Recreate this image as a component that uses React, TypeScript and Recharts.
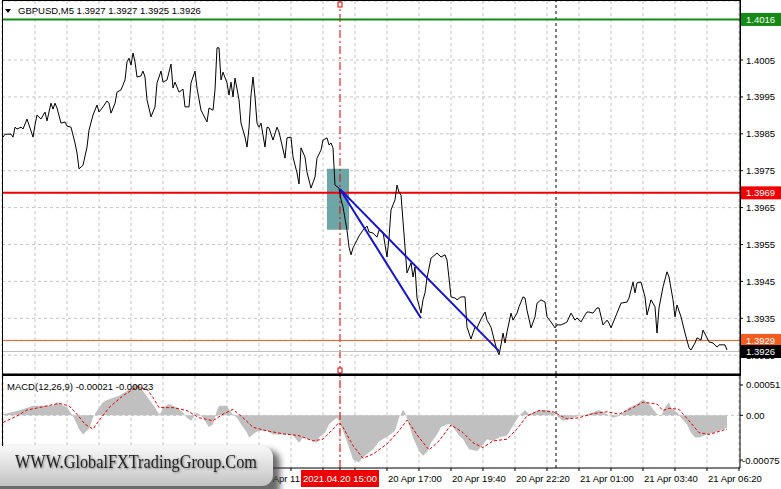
import React from 'react';
import {
  ComposedChart,
  Line,
  Area,
  XAxis,
  YAxis,
  CartesianGrid,
  ReferenceLine,
  ReferenceArea,
  ReferenceDot,
} from 'recharts';

const FONT = '"Liberation Sans", Arial, sans-serif';

// 5 minute bars, bar 0 = 20 Apr 01:00
const priceBars = [
  0, 1, 4, 5, 6, 7, 9, 10, 12, 13,
  15, 16, 17, 19, 21, 22, 24, 25, 26, 27,
  29, 31, 32, 34, 36, 37, 38, 40, 42, 43,
  45, 47, 48, 50, 52, 53, 54, 56, 57, 59,
  61, 62, 63, 64, 65, 66, 67, 69, 70, 71,
  72, 74, 76, 77, 79, 80, 82, 84, 85, 86,
  87, 88, 90, 91, 93, 94, 96, 97, 99, 102,
  103, 105, 106, 107, 108, 109, 110, 112, 113, 114,
  115, 116, 118, 119, 121, 122, 123, 124, 125, 126,
  127, 128, 129, 131, 132, 133, 135, 137, 138, 141,
  142, 144, 145, 147, 148, 149, 151, 152, 154, 156,
  157, 159, 160, 162, 163, 164, 165, 166, 168, 169,
  170, 172, 173, 174, 175, 177, 178, 180, 182, 183,
  185, 187, 188, 190, 192, 193, 194, 196, 197, 198,
  199, 201, 202, 204, 205, 206, 207, 209, 210, 211,
  212, 214, 216, 217, 219, 221, 222, 223, 224, 226,
  227, 229, 231, 232, 234, 236, 237, 239, 241, 242,
  244, 246, 247, 248, 249, 250, 251, 252, 254, 255,
  257, 258, 260, 261, 262, 264, 266, 267, 269, 271,
  272, 274, 276, 277, 279, 281, 282, 284, 286, 287,
  289, 291, 292, 293, 295, 297, 298, 300, 302, 303,
  304, 306, 307, 309, 312, 313, 315, 316, 317, 319,
  321, 322, 324, 326, 327, 328, 330, 332, 333, 335,
  336, 337, 339, 341, 343, 344, 346, 347, 349, 350,
  352, 353, 355, 357, 358, 361, 362,
];
const priceValues = [
  1.39841, 1.39849, 1.39849, 1.39841, 1.39868, 1.39863, 1.39868, 1.39863, 1.3989, 1.39874,
  1.39841, 1.39874, 1.39901, 1.3989, 1.39909, 1.39885, 1.39933, 1.39917, 1.39933, 1.3992,
  1.39879, 1.39882, 1.39871, 1.39868, 1.39825, 1.39798, 1.39755, 1.39765, 1.39814, 1.3986,
  1.39901, 1.39928, 1.39909, 1.39923, 1.39939, 1.39933, 1.39906, 1.39933, 1.39963, 1.39969,
  1.39996, 1.40045, 1.40055, 1.40036, 1.40069, 1.40045, 1.40004, 1.40007, 1.4002, 1.40004,
  1.39942, 1.39896, 1.39923, 1.39988, 1.4002, 1.3999, 1.39996, 1.40039, 1.39974, 1.3999,
  1.39977, 1.39963, 1.39971, 1.39923, 1.39923, 1.39988, 1.4002, 1.39974, 1.39914, 1.39882,
  1.3992, 1.39914, 1.39969, 1.40083, 1.40083, 1.39996, 1.40017, 1.39988, 1.39955, 1.3999,
  1.3995, 1.40001, 1.39942, 1.39879, 1.39841, 1.39814, 1.39866, 1.39955, 1.40004, 1.3995,
  1.39879, 1.39868, 1.39879, 1.39814, 1.39868, 1.39866, 1.39833, 1.39868, 1.39855, 1.39784,
  1.39839, 1.39841, 1.39787, 1.39744, 1.39714, 1.39812, 1.39787, 1.39746, 1.39703, 1.39733,
  1.39784, 1.39806, 1.39833, 1.39839, 1.3982, 1.39825, 1.39812, 1.39711, 1.39703, 1.39671,
  1.39652, 1.39589, 1.39543, 1.39522, 1.39541, 1.39562, 1.39573, 1.39589, 1.396, 1.39584,
  1.39581, 1.3957, 1.39589, 1.39584, 1.39516, 1.39568, 1.39644, 1.39671, 1.39711, 1.39692,
  1.39684, 1.39543, 1.39473, 1.395, 1.39462, 1.39489, 1.39405, 1.39364, 1.394, 1.39419,
  1.39459, 1.39513, 1.39522, 1.39527, 1.39516, 1.39522, 1.39508, 1.39459, 1.39408, 1.39405,
  1.394, 1.39408, 1.39408, 1.39326, 1.39294, 1.39326, 1.39324, 1.39348, 1.39367, 1.39345,
  1.39326, 1.39283, 1.39264, 1.39251, 1.39278, 1.3931, 1.39283, 1.39313, 1.39364, 1.39345,
  1.39364, 1.39381, 1.39408, 1.39405, 1.39372, 1.39324, 1.39354, 1.39391, 1.394, 1.39394,
  1.39354, 1.3934, 1.39324, 1.39332, 1.39332, 1.39337, 1.3934, 1.39364, 1.39345, 1.39351,
  1.3934, 1.39359, 1.39367, 1.39367, 1.39364, 1.39378, 1.39378, 1.39332, 1.39345, 1.39337,
  1.39324, 1.39351, 1.39364, 1.39391, 1.39394, 1.39405, 1.39448, 1.39419, 1.39446, 1.39448,
  1.39408, 1.39359, 1.394, 1.39381, 1.3931, 1.39378, 1.39435, 1.39476, 1.39462, 1.394,
  1.39354, 1.39386, 1.39354, 1.3931, 1.3927, 1.39264, 1.39283, 1.39297, 1.39291, 1.39318,
  1.39297, 1.39286, 1.39283, 1.39272, 1.39278, 1.39278, 1.39264,
];

// MACD main (histogram) and signal
const macdBars = [
  0, 8, 15, 25, 27, 32, 35, 38, 40, 43,
  45, 47, 50, 53, 58, 62, 65, 68, 70, 73,
  76, 78, 79, 80, 83, 87, 90, 92, 94, 97,
  100, 103, 105, 107, 108, 112, 114, 117, 119, 122,
  123, 126, 128, 132, 135, 138, 142, 145, 148, 150,
  153, 157, 158, 161, 163, 165, 167, 168, 170, 173,
  175, 178, 179, 182, 185, 188, 193, 196, 198, 200,
  201, 203, 205, 208, 210, 212, 214, 217, 219, 222,
  224, 228, 230, 233, 237, 238, 242, 245, 248, 252,
  254, 256, 258, 261, 263, 265, 268, 272, 275, 278,
  280, 283, 285, 288, 292, 295, 298, 302, 305, 308,
  310, 313, 317, 320, 323, 327, 329, 331, 333, 334,
  337, 339, 342, 344, 346, 348, 352, 355, 358, 362,
];
const macdValues = [
  0.00002, 0.00008, 0.00016, 0.00016, 0.00022, 0.00013, -0.00001, -0.00023, -0.00032, -0.00023,
  -0.00004, 0.00008, 0.00022, 0.00027, 0.00033, 0.00041, 0.0005, 0.00052, 0.00041, 0.00027,
  0.00013, 0.00002, 0.00005, 0.00013, 0.00019, 0.00013, 0.00005, -0.00004, -0.00009, 0.00005,
  -0.00004, -0.0002, -0.00015, 0.00008, 0.00016, 0.00016, 0.00005, -0.00004, -0.00015, -0.00029,
  -0.00037, -0.00029, -0.00026, -0.00026, -0.00032, -0.00032, -0.00032, -0.00034, -0.00046, -0.00037,
  -0.0004, -0.00046, -0.00037, -0.00029, -0.00015, -0.00009, -0.00004, -0.00009, -0.00026, -0.00054,
  -0.00074, -0.00079, -0.00074, -0.00065, -0.00057, -0.00044, -0.00034, -0.00026, -0.00004, 0.00009,
  0.00005, -0.00015, -0.00037, -0.0006, -0.00068, -0.00062, -0.00046, -0.00032, -0.0002, -0.00015,
  -0.00015, -0.00034, -0.0004, -0.00057, -0.0006, -0.00057, -0.0004, -0.00043, -0.00037, -0.00034,
  -0.00023, -0.00012, -0.00001, 0.00009, 0.00002, 0.00005, 0.00009, 0.00009, 0.00005, -0.00004,
  -0.00009, -0.00006, -0.00004, -0.00001, 0.00002, 0.00005, 0.00009, 0.00002, -0.00004, -0.00001,
  0.00005, 0.00013, 0.00019, 0.00027, 0.00019, 0.00002, -0.00001, 0.00013, 0.00022, 0.00013,
  0.00005, -0.00004, -0.00015, -0.00029, -0.00037, -0.00037, -0.00032, -0.00029, -0.00026, -0.00021,
];
const signalBars = [
  0, 7, 12, 18, 28, 33, 37, 41, 45, 48,
  53, 60, 67, 72, 75, 78, 85, 92, 98, 105,
  110, 115, 120, 125, 132, 140, 148, 155, 160, 165,
  168, 170, 175, 180, 185, 192, 198, 202, 208, 213,
  218, 224, 230, 235, 240, 245, 252, 257, 262, 268,
  275, 282, 288, 295, 302, 308, 315, 320, 327, 330,
  333, 338, 343, 348, 353, 362,
];
const signalValues = [
  -0.00012, -0.00001, 0.00009, 0.00013, 0.0002, 0.00016, 0.00002, -0.00015, -0.00023, -0.00009,
  0.00013, 0.00033, 0.00048, 0.00044, 0.0003, 0.00013, 0.00013, 0.00008, -0.00004, -0.00009,
  0.00002, 0.0001, -0.00004, -0.0002, -0.00026, -0.00031, -0.00034, -0.00043, -0.0004, -0.00023,
  -0.00012, -0.0002, -0.00051, -0.00072, -0.00065, -0.00048, -0.00026, -0.00008, -0.00037, -0.00058,
  -0.00043, -0.00016, -0.00029, -0.00046, -0.00054, -0.00043, -0.0004, -0.00023, -0.00001, 0.00008,
  0.00006, -0.00006, -0.00004, 0.00003, 0.00006, 0.00002, 0.00013, 0.00022, 0.00019, 0.00008,
  0.00012, 0.0001, -0.00009, -0.00029, -0.00032, -0.00023,
];

const gridBars = [
  0, 16, 32, 48, 64, 80, 96, 112, 128, 144, 160, 176,
  192, 208, 224, 240, 256, 272, 288, 304, 320, 336, 352, 368,
];
const timeLabels = [
  '20 Apr 2021', '20 Apr 03:40', '20 Apr 06:20', '20 Apr 09:00', '20 Apr 11:40', '20 Apr 14:20',
  '20 Apr 17:00', '20 Apr 19:40', '20 Apr 22:20', '21 Apr 01:00', '21 Apr 03:40', '21 Apr 06:20',
];
const priceTicks = [1.3925, 1.3935, 1.3945, 1.3955, 1.3965, 1.3975, 1.3985, 1.3995, 1.4005];
const macdTicks = [-0.00075, 0, 0.00051];

// objects on the chart
const levelPrices = [1.4016, 1.3969, 1.3929, 1.3926];
const levelLabels = ['1.4016', '1.3969', '1.3929', '1.3926'];
const crossBar = 168.5; // 2021.04.20 15:00
const crossLabel = '2021.04.20 15:00';
const daySeparatorBar = 276.5;
const boxBars = [162, 173];
const boxPrices = [1.3959, 1.39755];
const trendFrom = { bar: 168.5, price: 1.397 };
const trendTo = [
  { bar: 209, price: 1.3935 },
  { bar: 248, price: 1.39261 },
];

const xDomain = [-0.5, 368.5];
const priceDomain = [1.39199, 1.4021];
const macdDomain = [-0.000884, 0.000661];

const levelColors = ['#138a13', '#f00000', '#f25c1f', '#000'];
const levelStrokes = ['#138a13', '#f00000', '#f25c1f', '#c0c0c0'];

const priceData = priceBars.map((i, k) => ({ i, p: priceValues[k] }));
const macdData = macdBars.map((i, k) => ({ i, v: macdValues[k] }));
const signalData = signalBars.map((i, k) => ({ i, v: signalValues[k] }));

const PriceTick = (props: any) => {
  const { x, y, payload } = props;
  const v = payload.value;
  const k = levelPrices.indexOf(v);
  if (k >= 0) {
    return (
      <g>
        <rect x={x - 5} y={y - 6.5} width={40} height={13} fill={levelColors[k]} />
        <text x={x} y={y + 3.5} fill="#fff" fontSize={9.5} fontFamily={FONT}>
          {levelLabels[k]}
        </text>
      </g>
    );
  }
  return (
    <text x={x} y={y + 3.5} fill="#000" fontSize={9.5} fontFamily={FONT}>
      {v.toFixed(4)}
    </text>
  );
};

const MacdTick = (props: any) => {
  const { x, y, payload } = props;
  const v = payload.value;
  const text = v === 0 ? '0.00' : v.toFixed(5);
  return (
    <text x={v < 0 ? x - 4 : x} y={y + 3.5} fill="#000" fontSize={9.5} fontFamily={FONT}>
      {text}
    </text>
  );
};

const TimeTick = (props: any) => {
  const { x, y, payload } = props;
  const bar = payload.value;
  if (bar === crossBar) {
    return (
      <g>
        <rect x={x - 39} y={y - 3} width={78} height={17} fill="#ee0000" />
        <text x={x} y={y + 9} textAnchor="middle" fill="#fff" fontSize={9.5} fontFamily={FONT}>
          {crossLabel}
        </text>
      </g>
    );
  }
  if (bar % 32 !== 0) return <g />;
  return (
    <text x={x + 1} y={y + 8.5} fill="#000" fontSize={9.5} fontFamily={FONT}>
      {timeLabels[bar / 32]}
    </text>
  );
};

const AnchorMark = (props: any) => {
  const { cx, cy, up } = props;
  if (cx == null || cy == null) return <g />;
  return (
    <rect
      x={cx - 2}
      y={up ? cy - 6 : cy + 1}
      width={4}
      height={5}
      fill="#fff"
      stroke="#e00000"
    />
  );
};

export default function App() {
  return (
    <div
      style={{
        position: 'absolute',
        left: 0,
        top: 0,
        width: 781,
        height: 489,
        background: '#fff',
        overflow: 'hidden',
        fontFamily: FONT,
      }}
    >
      <div style={{ position: 'absolute', left: 0, top: 0 }}>
        <ComposedChart width={781} height={375} margin={{ top: 1, right: 0, bottom: 1, left: 2 }}>
          <CartesianGrid stroke="#c4c4c4" strokeDasharray="3 3" />
          <XAxis type="number" dataKey="i" domain={xDomain} ticks={gridBars} hide allowDataOverflow />
          <YAxis
            orientation="right"
            type="number"
            domain={priceDomain}
            ticks={[...priceTicks, ...levelPrices]}
            width={41}
            tickSize={3}
            tickMargin={3}
            interval={0}
            allowDataOverflow
            tick={<PriceTick />}
            axisLine={{ stroke: '#000' }}
            tickLine={{ stroke: '#000' }}
          />
          <ReferenceArea
            x1={boxBars[0]}
            x2={boxBars[1]}
            y1={boxPrices[0]}
            y2={boxPrices[1]}
            fill="#5f9ea0"
            fillOpacity={0.92}
            stroke="none"
          />
          <ReferenceLine x={daySeparatorBar} stroke="#000" strokeDasharray="3 3" />
          <ReferenceLine x={crossBar} stroke="#e00000" strokeDasharray="8 3 2 3" />
          {[3, 2, 1, 0].map((k) => (
            <ReferenceLine
              key={k}
              y={levelPrices[k]}
              stroke={levelStrokes[k]}
              strokeWidth={k < 2 ? 2 : 1}
            />
          ))}
          <Line
            data={priceData}
            dataKey="p"
            type="linear"
            stroke="#000"
            strokeWidth={1}
            dot={false}
            activeDot={false}
            isAnimationActive={false}
          />
          {trendTo.map((t, k) => (
            <ReferenceLine
              key={k}
              segment={[
                { x: trendFrom.bar, y: trendFrom.price },
                { x: t.bar, y: t.price },
              ]}
              stroke="#1414cc"
              strokeWidth={2}
            />
          ))}
          <ReferenceDot
            x={crossBar}
            y={priceDomain[1]}
            ifOverflow="visible"
            shape={(p: any) => <AnchorMark {...p} />}
          />
          <ReferenceDot
            x={crossBar}
            y={priceDomain[0]}
            ifOverflow="visible"
            shape={(p: any) => <AnchorMark {...p} up />}
          />
        </ComposedChart>
      </div>

      <div style={{ position: 'absolute', left: 0, top: 375 }}>
        <ComposedChart width={781} height={114} margin={{ top: 1, right: 0, bottom: 0, left: 2 }}>
          <CartesianGrid stroke="#c4c4c4" strokeDasharray="3 3" horizontal={false} />
          <XAxis
            type="number"
            dataKey="i"
            domain={xDomain}
            ticks={[...gridBars, crossBar]}
            interval={0}
            height={21}
            tickSize={3}
            tickMargin={2}
            allowDataOverflow
            axisLine={{ stroke: '#000' }}
            tickLine={{ stroke: '#000' }}
            tick={<TimeTick />}
          />
          <YAxis
            orientation="right"
            type="number"
            domain={macdDomain}
            ticks={macdTicks}
            width={41}
            tickSize={3}
            tickMargin={3}
            interval={0}
            allowDataOverflow
            tick={<MacdTick />}
            axisLine={{ stroke: '#000' }}
            tickLine={{ stroke: '#000' }}
          />
          <ReferenceLine y={0} stroke="#c4c4c4" strokeDasharray="3 3" />
          <Area
            data={macdData}
            dataKey="v"
            type="linear"
            fill="#c0c0c0"
            fillOpacity={1}
            stroke="none"
            dot={false}
            activeDot={false}
            isAnimationActive={false}
          />
          <Line
            data={signalData}
            dataKey="v"
            type="linear"
            stroke="#e00000"
            strokeDasharray="3 2"
            strokeWidth={1}
            dot={false}
            activeDot={false}
            isAnimationActive={false}
          />
          <ReferenceLine x={daySeparatorBar} stroke="#000" strokeDasharray="3 3" />
          <ReferenceLine x={crossBar} stroke="#e00000" strokeDasharray="8 3 2 3" />
        </ComposedChart>
      </div>

      <svg
        width={781}
        height={489}
        style={{ position: 'absolute', left: 0, top: 0, pointerEvents: 'none' }}
      >
        <defs>
          <linearGradient id="wmFill" x1="0" y1="0" x2="0" y2="1">
            <stop offset="0" stopColor="#f8f8f8" />
            <stop offset="0.55" stopColor="#dcdcdc" />
            <stop offset="1" stopColor="#c2c2c2" />
          </linearGradient>
          <filter id="wmBlur" x="-20%" y="-50%" width="140%" height="200%">
            <feGaussianBlur stdDeviation="3" />
          </filter>
          <filter id="txtShadow" x="-5%" y="-30%" width="110%" height="160%">
            <feDropShadow dx="1" dy="1" stdDeviation="0.8" floodColor="#000" floodOpacity="0.45" />
          </filter>
        </defs>
        {/* frames */}
        <rect x={2.5} y={0.5} width={738} height={373.5} fill="none" stroke="#000" />
        <line x1={2} x2={741} y1={375} y2={375} stroke="#000" strokeWidth={2} />
        <line x1={2.5} x2={2.5} y1={375} y2={468} stroke="#000" />
        {/* titles */}
        <polygon points="5,9 11,9 8,13" fill="#000" />
        <text x={18} y={13.5} fontSize={9.5} fontFamily={FONT} fill="#000">
          GBPUSD,M5  1.3927 1.3927 1.3925 1.3926
        </text>
        <text x={7} y={389.5} fontSize={9.5} fontFamily={FONT} fill="#000">
          MACD(12,26,9) -0.00021 -0.00023
        </text>
        {/* watermark */}
        <rect x={-12} y={450} width={292} height={50} rx={12} fill="#3a3a3a" opacity={0.75} filter="url(#wmBlur)" />
        <rect x={-12} y={446} width={285} height={40} rx={11} fill="url(#wmFill)" />
        <text
          x={15}
          y={468}
          fontSize={18}
          fontFamily='"Liberation Serif", "Times New Roman", serif'
          textLength={242}
          lengthAdjust="spacingAndGlyphs"
          fill="#222"
          filter="url(#txtShadow)"
        >
          WWW.GlobalFXTradingGroup.Com
        </text>
      </svg>
    </div>
  );
}
